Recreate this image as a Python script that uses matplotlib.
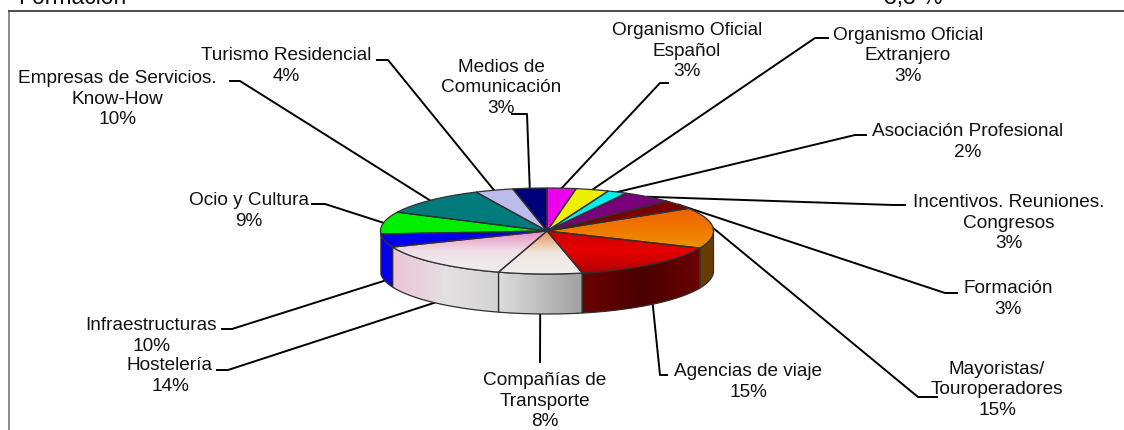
import numpy as np
from matplotlib import pyplot as plt
from matplotlib.colors import LinearSegmentedColormap
from matplotlib.patches import Polygon

plt.rcParams["font.family"] = ["Liberation Sans", "DejaVu Sans"]

labels = ["Organismo Oficial\nEspañol\n3%", "Organismo Oficial\nExtranjero\n3%",
          "Asociación Profesional\n2%", "Incentivos. Reuniones.\nCongresos\n3%",
          "Formación\n3%", "Mayoristas/\nTouroperadores\n15%", "Agencias de viaje\n15%",
          "Compañías de\nTransporte\n8%", "Hostelería\n14%", "Infraestructuras\n10%",
          "Ocio y Cultura\n9%", "Empresas de Servicios.\nKnow-How\n10%",
          "Turismo Residencial\n4%", "Medios de\nComunicación\n3%"]
# slice sizes as drawn in the picture (clockwise from 12 o'clock), not the printed labels
shares = [2.8, 3.2, 1.9, 4.9, 3.4, 15.3, 15.1, 8.1, 14.2, 5.0, 8.3, 10.8, 3.7, 3.3]

top_colors = [["#ee00ee"], ["#eeee00"], ["#00eeee"], ["#7a007a"], ["#7a0000"],
              ["#f06000", "#ee9000"], ["#cc0000", "#e80000", "#b00000"],
              ["#e49050", "#f0e8e0", "#eeeeee"], ["#e488bc", "#f0e0e8", "#eeeeee"],
              ["#0000ee"], ["#00ee00"], ["#007a7a"], ["#bcbcec"], ["#00007a"]]
side_colors = [None, None, None, None, None,
               ["#663c00"], ["#6a0000", "#4a0000", "#6a0000"],
               ["#dcdcdc", "#a0a0a0"], ["#ecc4d8", "#e4e0e2", "#d4d4d4"],
               ["#0000ee"], None, None, None, None]

# label text centre and leader elbow / stub end, in pixels
text_pos = [(687, 51), (908, 56), (968, 142), (1009, 223), (1008, 299), (997, 390), (748, 382),
            (545, 401), (170, 376), (151, 336), (249, 211), (117, 99), (286, 66), (501, 88)]
elbow = [(660, 83), (815, 38), (855, 135), (893, 205), (945, 293), (918, 397), (660, 375),
         (540, 362), (228, 370), (232, 329), (325, 204), (240, 81), (388, 60), (527, 114)]
stub = [(668, 83), (828, 38), (866, 135), (905, 205), (957, 293), (937, 397), (667, 375),
        (540, 362), (217, 370), (222, 329), (312, 204), (230, 81), (377, 60), (512, 114)]

cx, cy, rx, ry, depth = 547, 231, 166.5, 43, 40
FS = 13.7


def ellipse(deg):
    t = np.radians(deg)
    return cx + rx * np.sin(t), cy - ry * np.cos(t)


fig = plt.figure(figsize=(11.24, 4.3), dpi=100)
ax = fig.add_axes([0, 0, 1, 1])
ax.set_xlim(0, 1124)
ax.set_ylim(430, 0)
ax.axis("off")


def fill(verts, colors, horizontal, z):
    poly = Polygon(verts, closed=True, fc=colors[0], ec="none", zorder=z)
    ax.add_patch(poly)
    if len(colors) > 1:
        cmap = LinearSegmentedColormap.from_list("g", colors)
        x0, x1 = verts[:, 0].min(), verts[:, 0].max()
        y0, y1 = verts[:, 1].min(), verts[:, 1].max()
        grad = np.linspace(0, 1, 256)
        grad = grad[None, :] if horizontal else grad[:, None]
        im = ax.imshow(grad, cmap=cmap, extent=(x0, x1, y1, y0), aspect="auto", zorder=z, interpolation="bilinear")
        im.set_clip_path(poly)
        ax.set_xlim(0, 1124)
        ax.set_ylim(430, 0)
    ax.add_patch(Polygon(verts, closed=True, fc="none", ec="#303030", lw=0.9, zorder=z + 0.1))


ax.plot([9, 9], [11, 430], c="#808080", lw=1.3, zorder=1)
ax.plot([9, 1124], [11, 11], c="#404040", lw=1.3, zorder=1)
# remains of a table row above the chart, cut by the crop
ax.text(18, 4, "Formación", fontsize=16.5, ha="left", va="baseline", color="#111111")
ax.text(884, 4, "3,3 %", fontsize=16.5, ha="left", va="baseline", color="#111111")

edges = np.concatenate([[0], np.cumsum(shares)]) / np.sum(shares) * 360
mids = (edges[:-1] + edges[1:]) / 2

# leaders sit under the pie
for i in range(len(labels)):
    ax_, ay = ellipse(mids[i])
    if 90 < mids[i] < 270:
        ay += depth
    ax.plot([stub[i][0], elbow[i][0], ax_], [stub[i][1], elbow[i][1], ay], c="k", lw=1.4, zorder=2, solid_joinstyle="round")
    ax.text(text_pos[i][0], text_pos[i][1], labels[i], fontsize=FS, ha="center", va="center",
            linespacing=1.25, color="#111111", zorder=6)

# side walls then the top faces
for i in range(len(shares)):
    if side_colors[i] is None:
        continue
    a = np.linspace(max(edges[i], 90), min(edges[i + 1], 270), 40)
    x, y = ellipse(a)
    verts = np.column_stack([np.r_[x, x[::-1]], np.r_[y, y[::-1] + depth]])
    fill(verts, side_colors[i], True, 3)

for i in range(len(shares)):
    a = np.linspace(edges[i], edges[i + 1], 40)
    x, y = ellipse(a)
    verts = np.column_stack([np.r_[cx, x], np.r_[cy, y]])
    fill(verts, top_colors[i], False, 4)

fig.savefig("out.png", dpi=100)
